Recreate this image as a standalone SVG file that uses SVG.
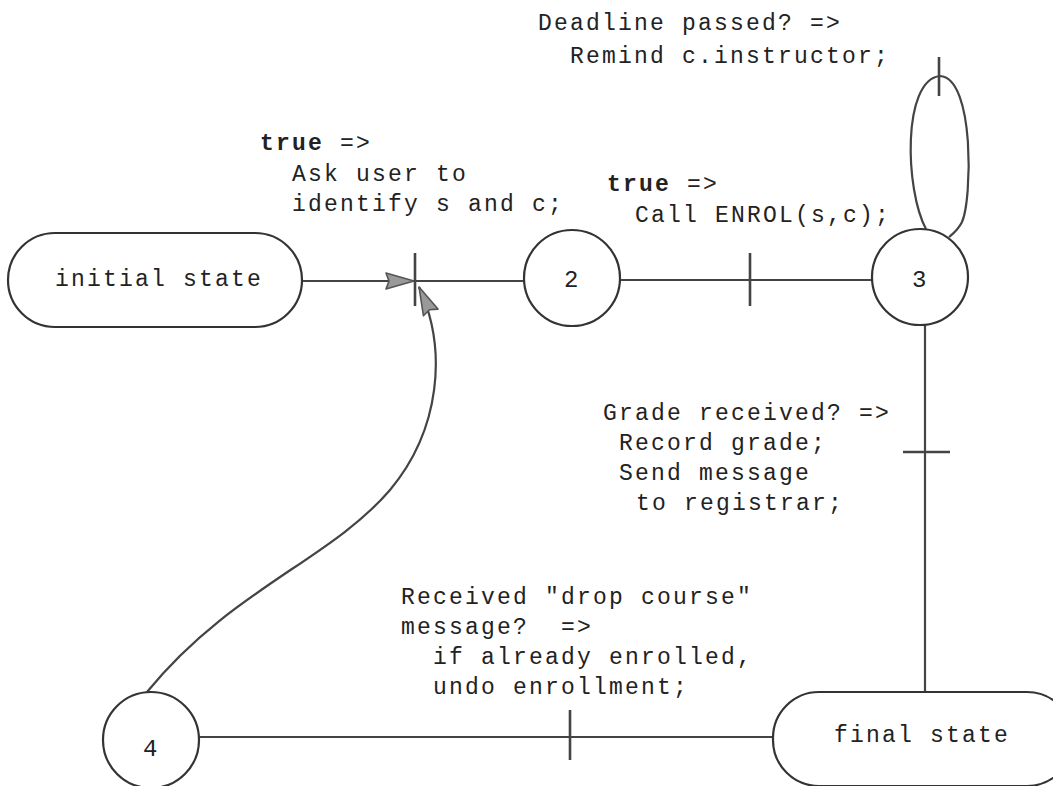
<svg xmlns="http://www.w3.org/2000/svg" width="1053" height="786" viewBox="0 0 1053 786">
<style>
.n{fill:#fff;stroke:#333;stroke-width:2.2}
.c{fill:none;stroke:#444;stroke-width:2.2}
.b{fill:none;stroke:#444;stroke-width:2.6}
text{font-family:"Liberation Mono","Courier New",monospace;font-size:23px;letter-spacing:2.2px;fill:#222;white-space:pre}
.bold{font-weight:bold}
.d{font-size:24px}
</style>
<defs>
<marker id="arr" markerUnits="userSpaceOnUse" markerWidth="32" markerHeight="20" viewBox="0 0 32 20" refX="30" refY="10" orient="auto">
<path d="M2,2 L30,10 L2,18 L5,10 Z" fill="#999" stroke="#555" stroke-width="1.6" stroke-linejoin="round"/>
</marker>
</defs>
<rect width="1053" height="786" fill="#fff"/>
<g id="connectors">
<path class="c" d="M302 281 L414 281" marker-end="url(#arr)"/>
<path class="c" d="M415 281 L524 281"/>
<line class="b" x1="415" y1="253" x2="415" y2="306"/>
<path class="c" d="M147 692 C230 590 330 560 390 490 C440 430 448 350 419 287" marker-end="url(#arr)"/>
<path class="c" d="M620 280 L872 280"/>
<line class="b" x1="750" y1="253" x2="750" y2="306"/>
<path class="c" d="M926 229 C905 190 902 80 940 76 C975 78 972 200 962 222 C958 230 954 233 949 237"/>
<line class="b" x1="939" y1="57" x2="939" y2="96"/>
<path class="c" d="M925 325 L925 692"/>
<line class="b" x1="903" y1="452" x2="950" y2="452"/>
<path class="c" d="M199 737 L773 737"/>
<line class="b" x1="570" y1="710" x2="570" y2="760"/>
</g>
<g id="initial">
<rect class="n" x="8" y="233" width="294" height="94" rx="47" ry="47"/>
<text x="55" y="286">initial state</text>
</g>
<g id="s2">
<circle class="n" cx="572" cy="278" r="48"/>
<text class="d" x="564" y="287">2</text>
</g>
<g id="s3">
<circle class="n" cx="920" cy="277" r="48"/>
<text class="d" x="912" y="287">3</text>
</g>
<g id="s4">
<circle class="n" cx="151" cy="740" r="48"/>
<text class="d" x="143" y="756">4</text>
</g>
<g id="final">
<rect class="n" x="773" y="692" width="300" height="94" rx="46" ry="46"/>
<text x="834" y="742">final state</text>
</g>
<g id="labels">
<text x="538" y="30">Deadline passed? =&gt;</text>
<text x="570" y="63">Remind c.instructor;</text>
<text x="260" y="150"><tspan class="bold">true</tspan> =&gt;</text>
<text x="292" y="181">Ask user to</text>
<text x="292" y="211">identify s and c;</text>
<text x="607" y="191"><tspan class="bold">true</tspan> =&gt;</text>
<text x="635" y="222">Call ENROL(s,c);</text>
<text x="603" y="420">Grade received? =&gt;</text>
<text x="619" y="450">Record grade;</text>
<text x="619" y="480">Send message</text>
<text x="636" y="510">to registrar;</text>
<text x="401" y="604">Received "drop course"</text>
<text x="401" y="634">message?  =&gt;</text>
<text x="433" y="664">if already enrolled,</text>
<text x="433" y="694">undo enrollment;</text>
</g>
</svg>
